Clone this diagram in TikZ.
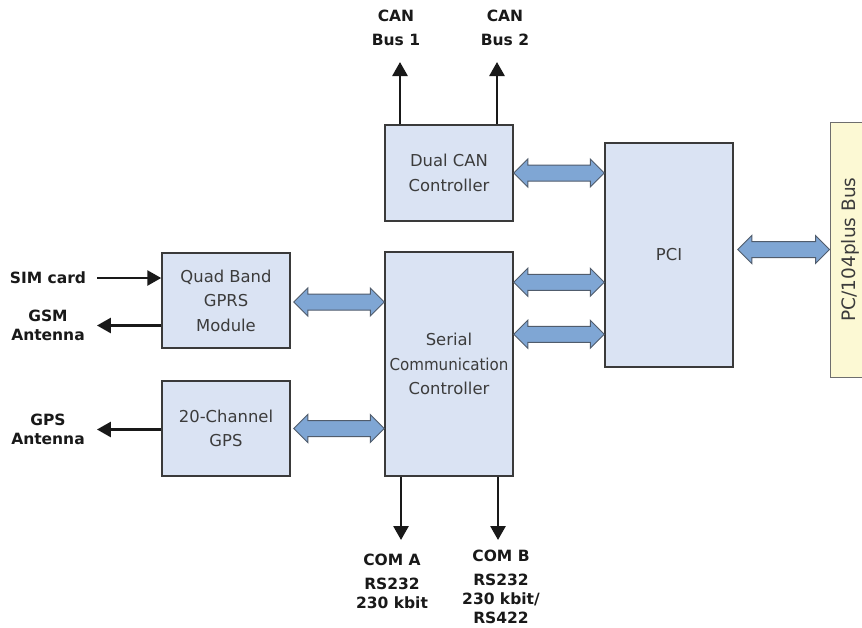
\documentclass[tikz,border=0pt]{standalone}
\usepackage{fontspec}
\setmainfont{DejaVu Sans}
\usetikzlibrary{arrows.meta,calc}

\definecolor{boxfill}{RGB}{218,227,243}
\definecolor{boxline}{RGB}{58,58,58}
\definecolor{busfill}{RGB}{252,249,212}
\definecolor{busline}{RGB}{110,110,110}
\definecolor{pipefill}{RGB}{127,166,212}
\definecolor{pipeline}{RGB}{80,92,108}
\definecolor{boxtext}{RGB}{60,60,60}

\tikzset{
    x=1pt, y=-1pt, >={Triangle[width=15pt,length=14pt]},
    block/.style={draw=boxline, fill=boxfill, line width=1.5pt, inner sep=0pt,
        minimum width=128pt, minimum height=96pt, align=center, text=boxtext,
        font=\fontsize{16.4}{24.5}\selectfont},
    busbar/.style={draw=busline, fill=busfill, line width=1pt, inner sep=0pt,
        minimum width=40pt, minimum height=255pt, text=boxtext,
        font=\fontsize{18.5}{22}\selectfont},
    tag/.style={inner sep=0pt, align=center, text=black!90,
        font=\bfseries\fontsize{15.5}{19}\selectfont},
    sig/.style={->, line width=2.7pt, black!90},
    pipe/.style={fill=pipefill, draw=pipeline, line width=1pt, line join=miter},
}

% fat double arrow: y taken from the first point, x from both
\newcommand{\busarrow}[2]{%
    \filldraw[pipe] let \p1=#1, \p2=#2 in
        (\x1,\y1) -- (\x1+14pt,\y1+14pt) -- (\x1+14pt,\y1+8pt)
        -- (\x2-14pt,\y1+8pt) -- (\x2-14pt,\y1+14pt) -- (\x2,\y1)
        -- (\x2-14pt,\y1-14pt) -- (\x2-14pt,\y1-8pt)
        -- (\x1+14pt,\y1-8pt) -- (\x1+14pt,\y1-14pt) -- cycle;}

\begin{document}
\begin{tikzpicture}
    \useasboundingbox[fill=white] (0,0) rectangle (862,627);

    % blocks
    \node [block] (can) at (449,173) {Dual CAN\\Controller};
    \node [block, minimum height=224pt] (pci) at (669,255) {PCI};
    \node [block, minimum height=224pt] (scc) at (449,364)
        {Serial\\\scalebox{0.92}[1]{Communication}\\Controller};
    \node [block, minimum height=95pt] (quad) at (226,300.5) {Quad Band\\GPRS\\Module};
    \node [block, minimum height=95pt] (gps) at (226,428.5) {20-Channel\\GPS};
    \node [busbar] (bus) at (850,249.5) {\rotatebox{90}{PC/104plus Bus}};

    % outside labels
    \node [tag] (can1) at (396,28) {CAN\\[5pt]Bus 1};
    \node [tag] (can2) at (505,28) {CAN\\[5pt]Bus 2};
    \node [tag] (sim) at (48,278) {SIM card};
    \node [tag] (gsm) at (48,325.5) {GSM\\Antenna};
    \node [tag] (gpsant) at (48,429.5) {GPS\\Antenna};
    \node [tag] (comA) at (392,581) {COM A\\[5pt]RS232\\230 kbit};
    \node [tag] (comB) at (501,587) {COM B\\[5pt]RS232\\230 kbit/\\RS422};

    \coordinate (can1 tip) at (400,62);
    \coordinate (can2 tip) at (497,62);
    \coordinate (comA tip) at (401,540);
    \coordinate (comB tip) at (498,540);

    % signal lines
    \draw [sig] (can1 tip |- can.north) -- (can1 tip);
    \draw [sig] (can2 tip |- can.north) -- (can2 tip);
    \draw [sig] (comA tip |- scc.south) -- (comA tip);
    \draw [sig] (comB tip |- scc.south) -- (comB tip);
    \draw [sig] ([xshift=11pt]sim.east) -- (sim -| quad.west);
    \draw [sig] (quad.west |- gsm) -- ([xshift=12pt]gsm.east);
    \draw [sig] (gps.west |- gpsant) -- ([xshift=12pt]gpsant.east);

    % data paths
    \busarrow{(can.east)}{(pci.west)}
    \busarrow{([yshift=-31pt]scc.north east)}{(pci.west)}
    \busarrow{([yshift=-83pt]scc.north east)}{(pci.west)}
    \busarrow{([xshift=3pt,yshift=-1.5pt]quad.east)}{(scc.west)}
    \busarrow{([xshift=3pt]gps.east)}{(scc.west)}
    \busarrow{($(pci.east |- bus.west)+(4,0)$)}{(bus.west)}
\end{tikzpicture}
\end{document}
